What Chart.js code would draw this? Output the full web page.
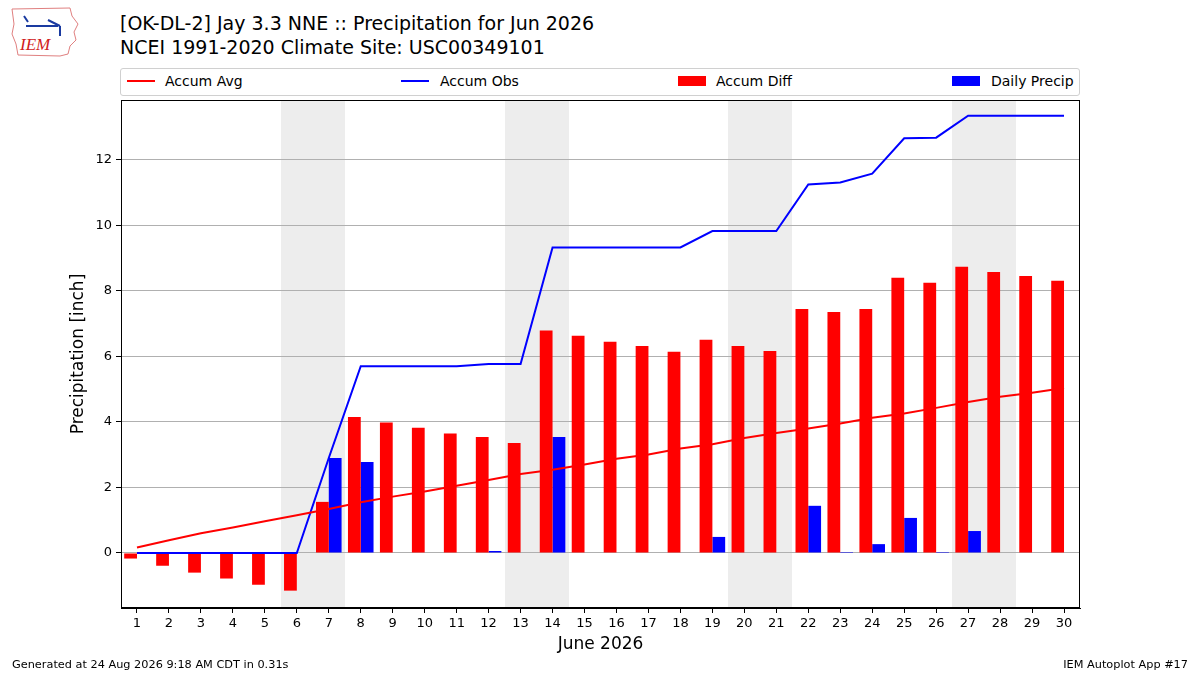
<!DOCTYPE html>
<html>
<head>
<meta charset="utf-8">
<script src="https://cdn.jsdelivr.net/npm/chart.js@4.4.1/dist/chart.umd.min.js"></script>
<style>
  body { margin: 0; background: #fff; font-family: "DejaVu Sans", sans-serif; }
  #wrap { position: relative; width: 1200px; height: 675px; overflow: hidden; }
  #precipChart { position: absolute; left: 0; top: 0; }
  .title { position: absolute; left: 120px; font-size: 19px; color: #000; white-space: nowrap; }
  #legend { position: absolute; left: 120px; top: 68px; width: 958px; height: 26px;
            border: 1px solid #d0d0d0; border-radius: 3px; background: #fff; }
  .item { position: absolute; top: 3px; font-size: 14px; line-height: 18px; white-space: nowrap; }
  .sw { position: absolute; top: 8px; }
  .foot { position: absolute; top: 658px; font-size: 11.3px; white-space: nowrap; }
</style>
</head>
<body>
<div id="wrap">
  <svg style="position:absolute;left:8px;top:6px" width="72" height="52" viewBox="0 0 72 52">
    <path d="M4 3 L62 2 L64 10 L70 18 L66 26 L68 34 L62 40 L60 48 L52 50 L10 49 L8 38 L4 28 L6 18 Z"
          fill="none" stroke="#e08080" stroke-width="1"/>
    <path d="M16 10 L20 16 M18 20 L50 20 M40 14 L52 20 M52 20 L52 30" stroke="#1a3aa0" stroke-width="2" fill="none"/>
    <text x="12" y="44" font-family="Liberation Serif, serif" font-style="italic" font-size="17" fill="#d02020">IEM</text>
  </svg>
  <div class="title" style="top:12px">[OK-DL-2] Jay 3.3 NNE :: Precipitation for Jun 2026</div>
  <div class="title" style="top:36px">NCEI 1991-2020 Climate Site: USC00349101</div>
  <div id="legend">
    <div class="sw" style="left:6px;width:28px;height:2px;background:#ff0000;top:11px"></div>
    <div class="item" style="left:44px">Accum Avg</div>
    <div class="sw" style="left:280px;width:28px;height:2px;background:#0000ff;top:11px"></div>
    <div class="item" style="left:319px">Accum Obs</div>
    <div class="sw" style="left:557px;width:28px;height:10px;background:#ff0000;top:7px"></div>
    <div class="item" style="left:595px">Accum Diff</div>
    <div class="sw" style="left:831px;width:28px;height:10px;background:#0000ff;top:7px"></div>
    <div class="item" style="left:870px">Daily Precip</div>
  </div>
  <canvas id="precipChart" width="1200" height="675"></canvas>
  <div class="foot" style="left:12px">Generated at 24 Aug 2026 9:18 AM CDT in 0.31s</div>
  <div class="foot" style="right:12px">IEM Autoplot App #17</div>
</div>
<script>
const days = ['1','2','3','4','5','6','7','8','9','10','11','12','13','14','15',
              '16','17','18','19','20','21','22','23','24','25','26','27','28','29','30'];

const accumAvg = [0.17, 0.39, 0.60, 0.78, 0.97, 1.15, 1.34, 1.55, 1.72, 1.88,
                  2.05, 2.23, 2.41, 2.54, 2.70, 2.88, 3.01, 3.19, 3.32, 3.51,
                  3.66, 3.80, 3.95, 4.13, 4.26, 4.43, 4.61, 4.77, 4.89, 5.04];

const accumObs = [0, 0, 0, 0, 0, 0, 2.90, 5.70, 5.70, 5.70,
                  5.70, 5.77, 5.77, 9.33, 9.33, 9.33, 9.33, 9.33, 9.83, 9.83,
                  9.83, 11.25, 11.31, 11.58, 12.66, 12.68, 13.35, 13.35, 13.35, 13.35];

const accumDiff = [-0.17, -0.39, -0.60, -0.78, -0.97, -1.15, 1.56, 4.15, 3.98, 3.82,
                   3.65, 3.54, 3.36, 6.79, 6.63, 6.45, 6.32, 6.14, 6.51, 6.32,
                   6.17, 7.45, 7.36, 7.45, 8.40, 8.25, 8.74, 8.58, 8.46, 8.31];

const dailyPrecip = [0, 0, 0, 0, 0, 0, 2.90, 2.78, 0, 0,
                     0, 0.06, 0, 3.54, 0, 0, 0, 0, 0.49, 0,
                     0, 1.44, 0.03, 0.27, 1.07, 0.03, 0.67, 0, 0, 0];

const weekendDays = ['6', '7', '13', '14', '20', '21', '27', '28'];
const yTicks = [0, 2, 4, 6, 8, 10, 12];

const weekendShade = {
    id: 'weekendShade',
    beforeDraw(chart) {
        const { ctx, chartArea, scales } = chart;
        ctx.save();
        ctx.fillStyle = '#ededed';
        weekendDays.forEach(d => {
            const i = days.indexOf(d);
            // round so neighbouring days join without a seam
            const x0 = Math.round(scales.x.getPixelForValue(i - 0.5));
            const x1 = Math.round(scales.x.getPixelForValue(i + 0.5));
            ctx.fillRect(x0, chartArea.top, x1 - x0, chartArea.bottom - chartArea.top);
        });
        ctx.restore();
    },
    afterDraw(chart) {
        const { ctx, chartArea } = chart;
        ctx.save();
        ctx.strokeStyle = '#000';
        ctx.lineWidth = 1;
        ctx.strokeRect(chartArea.left + 0.5, chartArea.top + 0.5,
                       chartArea.right - chartArea.left - 1, chartArea.bottom - chartArea.top - 1);
        ctx.restore();
    }
};

const ctx = document.getElementById('precipChart').getContext('2d');
new Chart(ctx, {
    type: 'bar',
    data: {
        labels: days,
        datasets: [{
            type: 'line',
            label: 'Accum Avg',
            data: accumAvg,
            borderColor: '#ff0000',
            borderWidth: 2,
            pointRadius: 0,
            tension: 0,
            order: 0
        }, {
            type: 'line',
            label: 'Accum Obs',
            data: accumObs,
            borderColor: '#0000ff',
            borderWidth: 2,
            pointRadius: 0,
            tension: 0,
            order: 0
        }, {
            label: 'Accum Diff',
            data: accumDiff,
            backgroundColor: '#ff0000',
            categoryPercentage: 0.8,
            barPercentage: 1.0,
            order: 1
        }, {
            label: 'Daily Precip',
            data: dailyPrecip,
            backgroundColor: '#0000ff',
            categoryPercentage: 0.8,
            barPercentage: 1.0,
            order: 1
        }]
    },
    options: {
        responsive: false,
        animation: false,
        devicePixelRatio: 1,
        layout: { padding: { left: 0, right: 120, top: 100, bottom: 0 } },
        plugins: {
            legend: { display: false },
            tooltip: { enabled: false }
        },
        scales: {
            x: {
                offset: true,
                grid: { offset: false, drawOnChartArea: false, drawTicks: true, tickLength: 5, tickColor: '#000' },
                border: { color: '#000' },
                ticks: { color: '#000', font: { family: 'DejaVu Sans', size: 13 }, padding: 3, maxRotation: 0, autoSkip: false },
                title: {
                    display: true,
                    text: 'June 2026',
                    color: '#000',
                    font: { family: 'DejaVu Sans', size: 17 },
                    padding: { top: 0, bottom: 20 }
                },
                afterFit(scale) { scale.height = 67; }
            },
            y: {
                min: -1.68,
                max: 13.83,
                afterBuildTicks(scale) { scale.ticks = yTicks.map(v => ({ value: v })); },
                grid: { color: '#b0b0b0', lineWidth: 1, tickLength: 5, tickColor: '#000' },
                border: { color: '#000' },
                ticks: { color: '#000', font: { family: 'DejaVu Sans', size: 13 }, padding: 4 },
                title: {
                    display: true,
                    text: 'Precipitation [inch]',
                    color: '#000',
                    font: { family: 'DejaVu Sans', size: 17 },
                    padding: { top: 68, bottom: 0 }
                },
                afterFit(scale) { scale.width = 121; }
            }
        }
    },
    plugins: [weekendShade]
});
</script>
</body>
</html>
